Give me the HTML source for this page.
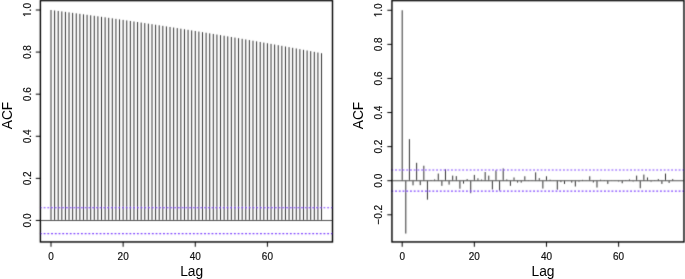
<!DOCTYPE html>
<html><head><meta charset="utf-8"><style>
html,body{margin:0;padding:0;background:#fff;overflow:hidden;width:685px;height:279px;}
svg{display:block;will-change:transform;}
.bar{stroke:#000;stroke-width:0.82;}
.ax{stroke:#000;stroke-width:1.0;}
.zl{stroke:#505050;stroke-width:1.1;}
.box{fill:none;stroke:#000;stroke-width:1.4;}
.cl{stroke:#7c40ff;stroke-width:1.15;stroke-dasharray:1.87 1.861;}
.tlp{fill:#111;stroke:#111;stroke-width:37;}
.tl{font-family:"Liberation Sans",sans-serif;font-size:10px;fill:#111;stroke:#111;stroke-width:0.18px;}
.lb{font-family:"Liberation Sans",sans-serif;font-size:13.8px;fill:#000;}
</style></head><body>
<svg width="685" height="279" viewBox="0 0 685 279">
<defs><filter id="bl" x="-5%" y="-5%" width="110%" height="110%"><feConvolveMatrix order="3" kernelMatrix="0.02 0.09 0.02 0.09 0.56 0.09 0.02 0.09 0.02" preserveAlpha="false" edgeMode="none"/></filter></defs>
<g filter="url(#bl)">
<line x1="51.00" y1="220.45" x2="51.00" y2="10.00" class="bar"/>
<line x1="54.61" y1="220.45" x2="54.61" y2="10.47" class="bar"/>
<line x1="58.21" y1="220.45" x2="58.21" y2="10.94" class="bar"/>
<line x1="61.82" y1="220.45" x2="61.82" y2="11.41" class="bar"/>
<line x1="65.43" y1="220.45" x2="65.43" y2="11.89" class="bar"/>
<line x1="69.03" y1="220.45" x2="69.03" y2="12.37" class="bar"/>
<line x1="72.64" y1="220.45" x2="72.64" y2="12.85" class="bar"/>
<line x1="76.25" y1="220.45" x2="76.25" y2="13.33" class="bar"/>
<line x1="79.86" y1="220.45" x2="79.86" y2="13.82" class="bar"/>
<line x1="83.46" y1="220.45" x2="83.46" y2="14.31" class="bar"/>
<line x1="87.07" y1="220.45" x2="87.07" y2="14.80" class="bar"/>
<line x1="90.68" y1="220.45" x2="90.68" y2="15.30" class="bar"/>
<line x1="94.28" y1="220.45" x2="94.28" y2="15.80" class="bar"/>
<line x1="97.89" y1="220.45" x2="97.89" y2="16.30" class="bar"/>
<line x1="101.50" y1="220.45" x2="101.50" y2="16.81" class="bar"/>
<line x1="105.11" y1="220.45" x2="105.11" y2="17.32" class="bar"/>
<line x1="108.71" y1="220.45" x2="108.71" y2="17.83" class="bar"/>
<line x1="112.32" y1="220.45" x2="112.32" y2="18.34" class="bar"/>
<line x1="115.93" y1="220.45" x2="115.93" y2="18.86" class="bar"/>
<line x1="119.53" y1="220.45" x2="119.53" y2="19.38" class="bar"/>
<line x1="123.14" y1="220.45" x2="123.14" y2="19.90" class="bar"/>
<line x1="126.75" y1="220.45" x2="126.75" y2="20.43" class="bar"/>
<line x1="130.35" y1="220.45" x2="130.35" y2="20.96" class="bar"/>
<line x1="133.96" y1="220.45" x2="133.96" y2="21.49" class="bar"/>
<line x1="137.57" y1="220.45" x2="137.57" y2="22.03" class="bar"/>
<line x1="141.18" y1="220.45" x2="141.18" y2="22.56" class="bar"/>
<line x1="144.78" y1="220.45" x2="144.78" y2="23.10" class="bar"/>
<line x1="148.39" y1="220.45" x2="148.39" y2="23.65" class="bar"/>
<line x1="152.00" y1="220.45" x2="152.00" y2="24.20" class="bar"/>
<line x1="155.60" y1="220.45" x2="155.60" y2="24.74" class="bar"/>
<line x1="159.21" y1="220.45" x2="159.21" y2="25.30" class="bar"/>
<line x1="162.82" y1="220.45" x2="162.82" y2="25.85" class="bar"/>
<line x1="166.42" y1="220.45" x2="166.42" y2="26.41" class="bar"/>
<line x1="170.03" y1="220.45" x2="170.03" y2="26.97" class="bar"/>
<line x1="173.64" y1="220.45" x2="173.64" y2="27.54" class="bar"/>
<line x1="177.25" y1="220.45" x2="177.25" y2="28.11" class="bar"/>
<line x1="180.85" y1="220.45" x2="180.85" y2="28.68" class="bar"/>
<line x1="184.46" y1="220.45" x2="184.46" y2="29.25" class="bar"/>
<line x1="188.07" y1="220.45" x2="188.07" y2="29.82" class="bar"/>
<line x1="191.67" y1="220.45" x2="191.67" y2="30.40" class="bar"/>
<line x1="195.28" y1="220.45" x2="195.28" y2="30.99" class="bar"/>
<line x1="198.89" y1="220.45" x2="198.89" y2="31.57" class="bar"/>
<line x1="202.49" y1="220.45" x2="202.49" y2="32.16" class="bar"/>
<line x1="206.10" y1="220.45" x2="206.10" y2="32.75" class="bar"/>
<line x1="209.71" y1="220.45" x2="209.71" y2="33.34" class="bar"/>
<line x1="213.31" y1="220.45" x2="213.31" y2="33.94" class="bar"/>
<line x1="216.92" y1="220.45" x2="216.92" y2="34.54" class="bar"/>
<line x1="220.53" y1="220.45" x2="220.53" y2="35.14" class="bar"/>
<line x1="224.14" y1="220.45" x2="224.14" y2="35.75" class="bar"/>
<line x1="227.74" y1="220.45" x2="227.74" y2="36.36" class="bar"/>
<line x1="231.35" y1="220.45" x2="231.35" y2="36.97" class="bar"/>
<line x1="234.96" y1="220.45" x2="234.96" y2="37.58" class="bar"/>
<line x1="238.56" y1="220.45" x2="238.56" y2="38.20" class="bar"/>
<line x1="242.17" y1="220.45" x2="242.17" y2="38.82" class="bar"/>
<line x1="245.78" y1="220.45" x2="245.78" y2="39.44" class="bar"/>
<line x1="249.39" y1="220.45" x2="249.39" y2="40.07" class="bar"/>
<line x1="252.99" y1="220.45" x2="252.99" y2="40.70" class="bar"/>
<line x1="256.60" y1="220.45" x2="256.60" y2="41.33" class="bar"/>
<line x1="260.21" y1="220.45" x2="260.21" y2="41.97" class="bar"/>
<line x1="263.81" y1="220.45" x2="263.81" y2="42.61" class="bar"/>
<line x1="267.42" y1="220.45" x2="267.42" y2="43.25" class="bar"/>
<line x1="271.03" y1="220.45" x2="271.03" y2="43.89" class="bar"/>
<line x1="274.63" y1="220.45" x2="274.63" y2="44.54" class="bar"/>
<line x1="278.24" y1="220.45" x2="278.24" y2="45.19" class="bar"/>
<line x1="281.85" y1="220.45" x2="281.85" y2="45.84" class="bar"/>
<line x1="285.46" y1="220.45" x2="285.46" y2="46.50" class="bar"/>
<line x1="289.06" y1="220.45" x2="289.06" y2="47.15" class="bar"/>
<line x1="292.67" y1="220.45" x2="292.67" y2="47.82" class="bar"/>
<line x1="296.28" y1="220.45" x2="296.28" y2="48.48" class="bar"/>
<line x1="299.88" y1="220.45" x2="299.88" y2="49.15" class="bar"/>
<line x1="303.49" y1="220.45" x2="303.49" y2="49.82" class="bar"/>
<line x1="307.10" y1="220.45" x2="307.10" y2="50.49" class="bar"/>
<line x1="310.70" y1="220.45" x2="310.70" y2="51.17" class="bar"/>
<line x1="314.31" y1="220.45" x2="314.31" y2="51.85" class="bar"/>
<line x1="317.92" y1="220.45" x2="317.92" y2="52.53" class="bar"/>
<line x1="321.53" y1="220.45" x2="321.53" y2="53.22" class="bar"/>
<line x1="40.40" y1="220.45" x2="332.50" y2="220.45" class="zl"/>
<line x1="39.90" y1="207.70" x2="332.50" y2="207.70" class="cl"/>
<line x1="39.90" y1="233.60" x2="332.50" y2="233.60" class="cl"/>
<rect x="40.40" y="0.60" width="292.10" height="241.35" class="box"/>
<line x1="35.80" y1="220.45" x2="40.40" y2="220.45" class="ax"/>
<line x1="35.80" y1="178.36" x2="40.40" y2="178.36" class="ax"/>
<line x1="35.80" y1="136.27" x2="40.40" y2="136.27" class="ax"/>
<line x1="35.80" y1="94.18" x2="40.40" y2="94.18" class="ax"/>
<line x1="35.80" y1="52.09" x2="40.40" y2="52.09" class="ax"/>
<line x1="35.80" y1="10.00" x2="40.40" y2="10.00" class="ax"/>
<line x1="51.00" y1="241.95" x2="51.00" y2="246.75" class="ax"/>
<line x1="123.14" y1="241.95" x2="123.14" y2="246.75" class="ax"/>
<line x1="195.28" y1="241.95" x2="195.28" y2="246.75" class="ax"/>
<line x1="267.42" y1="241.95" x2="267.42" y2="246.75" class="ax"/>
<line x1="402.20" y1="180.72" x2="402.20" y2="10.27" class="bar"/>
<line x1="405.81" y1="180.72" x2="405.81" y2="233.56" class="bar"/>
<line x1="409.41" y1="180.72" x2="409.41" y2="139.13" class="bar"/>
<line x1="413.02" y1="180.72" x2="413.02" y2="185.32" class="bar"/>
<line x1="416.63" y1="180.72" x2="416.63" y2="162.82" class="bar"/>
<line x1="420.24" y1="180.72" x2="420.24" y2="185.15" class="bar"/>
<line x1="423.84" y1="180.72" x2="423.84" y2="165.72" class="bar"/>
<line x1="427.45" y1="180.72" x2="427.45" y2="199.64" class="bar"/>
<line x1="431.06" y1="180.72" x2="431.06" y2="180.21" class="bar"/>
<line x1="434.66" y1="180.72" x2="434.66" y2="179.36" class="bar"/>
<line x1="438.27" y1="180.72" x2="438.27" y2="173.56" class="bar"/>
<line x1="441.88" y1="180.72" x2="441.88" y2="185.83" class="bar"/>
<line x1="445.48" y1="180.72" x2="445.48" y2="169.30" class="bar"/>
<line x1="449.09" y1="180.72" x2="449.09" y2="184.64" class="bar"/>
<line x1="452.70" y1="180.72" x2="452.70" y2="175.61" class="bar"/>
<line x1="456.31" y1="180.72" x2="456.31" y2="176.12" class="bar"/>
<line x1="459.91" y1="180.72" x2="459.91" y2="188.73" class="bar"/>
<line x1="463.52" y1="180.72" x2="463.52" y2="183.62" class="bar"/>
<line x1="467.13" y1="180.72" x2="467.13" y2="179.02" class="bar"/>
<line x1="470.73" y1="180.72" x2="470.73" y2="193.16" class="bar"/>
<line x1="474.34" y1="180.72" x2="474.34" y2="174.92" class="bar"/>
<line x1="477.95" y1="180.72" x2="477.95" y2="178.33" class="bar"/>
<line x1="481.55" y1="180.72" x2="481.55" y2="179.53" class="bar"/>
<line x1="485.16" y1="180.72" x2="485.16" y2="172.03" class="bar"/>
<line x1="488.77" y1="180.72" x2="488.77" y2="175.61" class="bar"/>
<line x1="492.38" y1="180.72" x2="492.38" y2="189.58" class="bar"/>
<line x1="495.98" y1="180.72" x2="495.98" y2="170.32" class="bar"/>
<line x1="499.59" y1="180.72" x2="499.59" y2="190.61" class="bar"/>
<line x1="503.20" y1="180.72" x2="503.20" y2="168.45" class="bar"/>
<line x1="506.80" y1="180.72" x2="506.80" y2="179.36" class="bar"/>
<line x1="510.41" y1="180.72" x2="510.41" y2="185.83" class="bar"/>
<line x1="514.02" y1="180.72" x2="514.02" y2="177.48" class="bar"/>
<line x1="517.62" y1="180.72" x2="517.62" y2="182.59" class="bar"/>
<line x1="521.23" y1="180.72" x2="521.23" y2="182.59" class="bar"/>
<line x1="524.84" y1="180.72" x2="524.84" y2="176.29" class="bar"/>
<line x1="528.44" y1="180.72" x2="528.44" y2="181.06" class="bar"/>
<line x1="532.05" y1="180.72" x2="532.05" y2="180.38" class="bar"/>
<line x1="535.66" y1="180.72" x2="535.66" y2="172.37" class="bar"/>
<line x1="539.27" y1="180.72" x2="539.27" y2="178.16" class="bar"/>
<line x1="542.87" y1="180.72" x2="542.87" y2="188.56" class="bar"/>
<line x1="546.48" y1="180.72" x2="546.48" y2="176.29" class="bar"/>
<line x1="550.09" y1="180.72" x2="550.09" y2="179.70" class="bar"/>
<line x1="553.69" y1="180.72" x2="553.69" y2="180.55" class="bar"/>
<line x1="557.30" y1="180.72" x2="557.30" y2="189.75" class="bar"/>
<line x1="560.91" y1="180.72" x2="560.91" y2="182.08" class="bar"/>
<line x1="564.51" y1="180.72" x2="564.51" y2="183.96" class="bar"/>
<line x1="568.12" y1="180.72" x2="568.12" y2="180.55" class="bar"/>
<line x1="571.73" y1="180.72" x2="571.73" y2="182.59" class="bar"/>
<line x1="575.34" y1="180.72" x2="575.34" y2="186.52" class="bar"/>
<line x1="578.94" y1="180.72" x2="578.94" y2="181.57" class="bar"/>
<line x1="582.55" y1="180.72" x2="582.55" y2="179.87" class="bar"/>
<line x1="586.16" y1="180.72" x2="586.16" y2="180.55" class="bar"/>
<line x1="589.76" y1="180.72" x2="589.76" y2="176.29" class="bar"/>
<line x1="593.37" y1="180.72" x2="593.37" y2="182.42" class="bar"/>
<line x1="596.98" y1="180.72" x2="596.98" y2="187.54" class="bar"/>
<line x1="600.59" y1="180.72" x2="600.59" y2="179.70" class="bar"/>
<line x1="604.19" y1="180.72" x2="604.19" y2="180.21" class="bar"/>
<line x1="607.80" y1="180.72" x2="607.80" y2="183.96" class="bar"/>
<line x1="611.41" y1="180.72" x2="611.41" y2="180.55" class="bar"/>
<line x1="615.01" y1="180.72" x2="615.01" y2="180.89" class="bar"/>
<line x1="618.62" y1="180.72" x2="618.62" y2="181.40" class="bar"/>
<line x1="622.23" y1="180.72" x2="622.23" y2="183.28" class="bar"/>
<line x1="625.83" y1="180.72" x2="625.83" y2="180.21" class="bar"/>
<line x1="629.44" y1="180.72" x2="629.44" y2="179.36" class="bar"/>
<line x1="633.05" y1="180.72" x2="633.05" y2="181.40" class="bar"/>
<line x1="636.65" y1="180.72" x2="636.65" y2="175.61" class="bar"/>
<line x1="640.26" y1="180.72" x2="640.26" y2="188.22" class="bar"/>
<line x1="643.87" y1="180.72" x2="643.87" y2="174.58" class="bar"/>
<line x1="647.48" y1="180.72" x2="647.48" y2="177.48" class="bar"/>
<line x1="651.08" y1="180.72" x2="651.08" y2="181.57" class="bar"/>
<line x1="654.69" y1="180.72" x2="654.69" y2="180.38" class="bar"/>
<line x1="658.30" y1="180.72" x2="658.30" y2="179.02" class="bar"/>
<line x1="661.90" y1="180.72" x2="661.90" y2="183.96" class="bar"/>
<line x1="665.51" y1="180.72" x2="665.51" y2="173.56" class="bar"/>
<line x1="669.12" y1="180.72" x2="669.12" y2="182.94" class="bar"/>
<line x1="672.73" y1="180.72" x2="672.73" y2="179.02" class="bar"/>
<line x1="391.95" y1="180.72" x2="684.00" y2="180.72" class="zl"/>
<line x1="391.35" y1="170.00" x2="684.00" y2="170.00" class="cl"/>
<line x1="391.35" y1="191.10" x2="684.00" y2="191.10" class="cl"/>
<rect x="391.95" y="0.60" width="292.05" height="241.35" class="box"/>
<line x1="387.35" y1="214.81" x2="391.95" y2="214.81" class="ax"/>
<line x1="387.35" y1="180.72" x2="391.95" y2="180.72" class="ax"/>
<line x1="387.35" y1="146.63" x2="391.95" y2="146.63" class="ax"/>
<line x1="387.35" y1="112.54" x2="391.95" y2="112.54" class="ax"/>
<line x1="387.35" y1="78.45" x2="391.95" y2="78.45" class="ax"/>
<line x1="387.35" y1="44.36" x2="391.95" y2="44.36" class="ax"/>
<line x1="387.35" y1="10.27" x2="391.95" y2="10.27" class="ax"/>
<line x1="402.20" y1="241.95" x2="402.20" y2="246.75" class="ax"/>
<line x1="474.34" y1="241.95" x2="474.34" y2="246.75" class="ax"/>
<line x1="546.48" y1="241.95" x2="546.48" y2="246.75" class="ax"/>
<line x1="618.62" y1="241.95" x2="618.62" y2="246.75" class="ax"/>
</g>
<text transform="translate(30.80 220.45) rotate(-90) scale(1 1.12)" text-anchor="middle" class="tl">0.0</text>
<text transform="translate(30.80 178.36) rotate(-90) scale(1 1.12)" text-anchor="middle" class="tl">0.2</text>
<text transform="translate(30.80 136.27) rotate(-90) scale(1 1.12)" text-anchor="middle" class="tl">0.4</text>
<text transform="translate(30.80 94.18) rotate(-90) scale(1 1.12)" text-anchor="middle" class="tl">0.6</text>
<text transform="translate(30.80 52.09) rotate(-90) scale(1 1.12)" text-anchor="middle" class="tl">0.8</text>
<g transform="translate(30.80 10.00) rotate(-90) scale(1 1.12)"><path class="tlp" transform="translate(-6.951 0) scale(0.004883 -0.004883)" d="M696 0L515 0L515 1237L197 1010L197 1180L530 1409L696 1409Z"/><text x="-1.389" y="0" class="tl">.0</text></g>
<text transform="translate(51.00 260.10) scale(1 1.12)" text-anchor="middle" class="tl">0</text>
<text transform="translate(123.14 260.10) scale(1 1.12)" text-anchor="middle" class="tl">20</text>
<text transform="translate(195.28 260.10) scale(1 1.12)" text-anchor="middle" class="tl">40</text>
<text transform="translate(267.42 260.10) scale(1 1.12)" text-anchor="middle" class="tl">60</text>
<text x="191.70" y="275.9" text-anchor="middle" class="lb">Lag</text>
<text x="11.60" y="115.50" transform="rotate(-90 11.60 115.50)" text-anchor="middle" class="lb">ACF</text>
<text transform="translate(381.80 214.81) rotate(-90) scale(1 1.12)" text-anchor="middle" class="tl">−0.2</text>
<text transform="translate(381.80 180.72) rotate(-90) scale(1 1.12)" text-anchor="middle" class="tl">0.0</text>
<text transform="translate(381.80 146.63) rotate(-90) scale(1 1.12)" text-anchor="middle" class="tl">0.2</text>
<text transform="translate(381.80 112.54) rotate(-90) scale(1 1.12)" text-anchor="middle" class="tl">0.4</text>
<text transform="translate(381.80 78.45) rotate(-90) scale(1 1.12)" text-anchor="middle" class="tl">0.6</text>
<text transform="translate(381.80 44.36) rotate(-90) scale(1 1.12)" text-anchor="middle" class="tl">0.8</text>
<g transform="translate(381.80 10.27) rotate(-90) scale(1 1.12)"><path class="tlp" transform="translate(-6.951 0) scale(0.004883 -0.004883)" d="M696 0L515 0L515 1237L197 1010L197 1180L530 1409L696 1409Z"/><text x="-1.389" y="0" class="tl">.0</text></g>
<text transform="translate(402.20 260.10) scale(1 1.12)" text-anchor="middle" class="tl">0</text>
<text transform="translate(474.34 260.10) scale(1 1.12)" text-anchor="middle" class="tl">20</text>
<text transform="translate(546.48 260.10) scale(1 1.12)" text-anchor="middle" class="tl">40</text>
<text transform="translate(618.62 260.10) scale(1 1.12)" text-anchor="middle" class="tl">60</text>
<text x="543.00" y="275.9" text-anchor="middle" class="lb">Lag</text>
<text x="362.60" y="115.50" transform="rotate(-90 362.60 115.50)" text-anchor="middle" class="lb">ACF</text>
</svg>
</body></html>
